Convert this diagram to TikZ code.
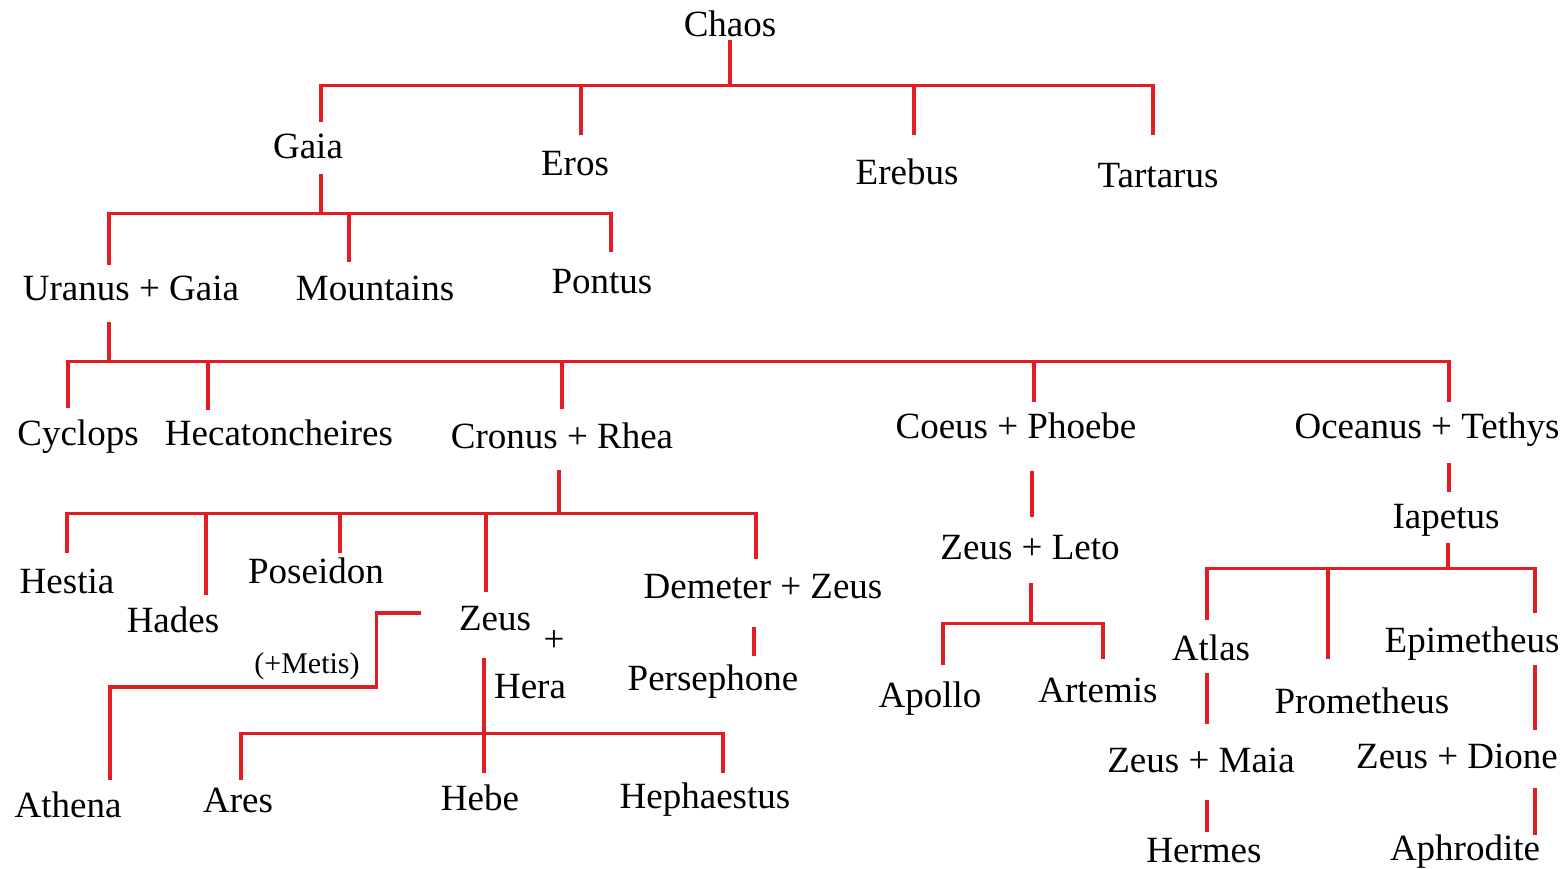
\documentclass[tikz,border=0pt]{standalone}
\usepackage{fontspec}
\setmainfont{Liberation Serif}
\definecolor{treered}{RGB}{228,28,36}

\begin{document}
\begin{tikzpicture}[
        x=0.5pt, y=-0.5pt,
        god/.style={anchor=base, inner sep=0pt, text height=12.5pt, text depth=4pt, font=\fontsize{18.5}{22}\selectfont},
        note/.style={anchor=base, inner sep=0pt, font=\fontsize{15}{18}\selectfont},
        link/.style={draw=treered, line width=1.6pt},
    ]
        \useasboundingbox (0,0) rectangle (1566,868);

        % Chaos
        \node[god] (chaos) at (730,36) {Chaos};
        \node[god] (gaia) at (308,158) {Gaia};
        \node[god] (eros) at (575,175) {Eros};
        \node[god] (erebus) at (907,184) {Erebus};
        \node[god] (tartarus) at (1158,187) {Tartarus};

        % Gaia
        \node[god] (uranus) at (131,300) {Uranus + Gaia};
        \node[god] (mountains) at (375,300) {Mountains};
        \node[god] (pontus) at (602,293) {Pontus};

        % Titans
        \node[god] (cyclops) at (78,445) {Cyclops};
        \node[god] (hecaton) at (279,445) {Hecatoncheires};
        \node[god] (cronus) at (562,448) {Cronus + Rhea};
        \node[god] (coeus) at (1016,438) {Coeus + Phoebe};
        \node[god] (oceanus) at (1427,438) {Oceanus + Tethys};

        % Cronus + Rhea
        \node[god] (hestia) at (67,593) {Hestia};
        \node[god] (hades) at (173,632) {Hades};
        \node[god] (poseidon) at (316,583) {Poseidon};
        \node[god] (zeus) at (495,630) {Zeus};
        \node[god] (plus) at (554,651) {+};
        \node[god] (hera) at (530,698) {Hera};
        \node[god] (demeter) at (763,598) {Demeter + Zeus};
        \node[god] (persephone) at (713,690) {Persephone};
        \node[note] (metis) at (307,673) {(+Metis)};
        \node[god] (athena) at (68,817) {Athena};
        \node[god] (ares) at (238,812) {Ares};
        \node[god] (hebe) at (480,810) {Hebe};
        \node[god] (hephaestus) at (705,808) {Hephaestus};

        % Coeus + Phoebe
        \node[god] (leto) at (1030,559) {Zeus + Leto};
        \node[god] (apollo) at (930,707) {Apollo};
        \node[god] (artemis) at (1098,702) {Artemis};

        % Oceanus + Tethys
        \node[god] (iapetus) at (1446,528) {Iapetus};
        \node[god] (atlas) at (1211,660) {Atlas};
        \node[god] (prometheus) at (1362,713) {Prometheus};
        \node[god] (epimetheus) at (1472,652) {Epimetheus};
        \node[god] (maia) at (1201,772) {Zeus + Maia};
        \node[god] (hermes) at (1204,862) {Hermes};
        \node[god] (dione) at (1457,768) {Zeus + Dione};
        \node[god] (aphrodite) at (1465,860) {Aphrodite};

        % Links
        \draw[link] ([yshift=2pt]chaos.south) -- ++(0,45) coordinate (jchaos);
        \draw[link] (jchaos) -| ([xshift=6.5pt,yshift=5.5pt]gaia.north);
        \draw[link] (jchaos) -| ([xshift=3pt,yshift=7.5pt]eros.north);
        \draw[link] (jchaos) -| ([xshift=3.5pt,yshift=12pt]erebus.north);
        \draw[link] (jchaos) -| ([xshift=-2.5pt,yshift=13.5pt]tartarus.north);

        \draw[link] ([xshift=6.5pt,yshift=-4pt]gaia.south) -- ++(0,39) coordinate (jgaia);
        \draw[link] (jgaia) -| ([xshift=-11pt,yshift=5pt]uranus.north);
        \draw[link] (jgaia) -| ([xshift=-13pt,yshift=6.5pt]mountains.north);
        \draw[link] (jgaia) -| ([xshift=4.5pt,yshift=8pt]pontus.north);

        \draw[link] ([xshift=-11pt,yshift=-7pt]uranus.south) -- ++(0,39) coordinate (juranus);
        \draw[link] (juranus) -| ([xshift=-5pt,yshift=6pt]cyclops.north);
        \draw[link] (juranus) -| ([xshift=-35.5pt,yshift=5pt]hecaton.north);
        \draw[link] (juranus) -| ([yshift=7pt]cronus.north);
        \draw[link] (juranus) -| ([xshift=9pt,yshift=5.5pt]coeus.north);
        \draw[link] (juranus) -| ([xshift=11pt,yshift=5.5pt]oceanus.north);

        \draw[link] ([xshift=-1.5pt,yshift=-7pt]cronus.south) -- ++(0,43) coordinate (jcronus);
        \draw[link] (jcronus) -| ([yshift=7.5pt]hestia.north);
        \draw[link] (jcronus) -| ([xshift=16.5pt,yshift=6pt]hades.north);
        \draw[link] (jcronus) -| ([xshift=12pt,yshift=2.5pt]poseidon.north);
        \draw[link] (jcronus) -| ([xshift=-4.5pt,yshift=6.5pt]zeus.north);
        \draw[link] (jcronus) -| ([xshift=-3.5pt,yshift=7pt]demeter.north);
        \draw[link] ([xshift=-4.5pt,yshift=-10.5pt]demeter.south) -- ([xshift=20.5pt,yshift=4.5pt]persephone.north);

        \draw[link] ([xshift=-19pt,yshift=4.25pt]zeus.west) -- ++(-44,0) -- ++(0,74) -| ([xshift=21pt,yshift=6pt]athena.north);
        \draw[link] ([xshift=-5.5pt,yshift=-10pt]zeus.south) -- ++(0,75) coordinate (jzeus) -- ([xshift=2pt,yshift=6pt]hebe.north);
        \draw[link] (jzeus) -| ([xshift=1.5pt,yshift=3.5pt]ares.north);
        \draw[link] (jzeus) -| ([xshift=9pt,yshift=5pt]hephaestus.north);

        \draw[link] ([xshift=8pt,yshift=-12.5pt]coeus.south) -- ([xshift=1pt,yshift=8.5pt]leto.north);
        \draw[link] ([xshift=0.5pt,yshift=-8pt]leto.south) -- ++(0,40) coordinate (jleto);
        \draw[link] (jleto) -| ([xshift=6.5pt,yshift=8.5pt]apollo.north);
        \draw[link] (jleto) -| ([xshift=2.5pt,yshift=9pt]artemis.north);

        \draw[link] ([xshift=11pt,yshift=-8.5pt]oceanus.south) -- ([xshift=1.5pt,yshift=5.5pt]iapetus.north);
        \draw[link] ([xshift=1pt,yshift=-3.5pt]iapetus.south) -- ++(0,25) coordinate (jiapetus);
        \draw[link] (jiapetus) -| ([xshift=-2pt,yshift=7.5pt]atlas.north);
        \draw[link] (jiapetus) -| ([xshift=-17pt,yshift=14.5pt]prometheus.north);
        \draw[link] (jiapetus) -| ([xshift=31.5pt,yshift=7pt]epimetheus.north);
        \draw[link] ([xshift=-2pt,yshift=-2.5pt]atlas.south) -- ([xshift=3pt,yshift=11.5pt]maia.north);
        \draw[link] ([xshift=3pt,yshift=-10pt]maia.south) -- ([xshift=1.5pt,yshift=2.5pt]hermes.north);
        \draw[link] ([xshift=31.5pt,yshift=-2.5pt]epimetheus.south) -- ([xshift=39pt,yshift=6.5pt]dione.north);
        \draw[link] ([xshift=39pt,yshift=-6pt]dione.south) -- ([xshift=35pt]aphrodite.north);

    \end{tikzpicture}
\end{document}
